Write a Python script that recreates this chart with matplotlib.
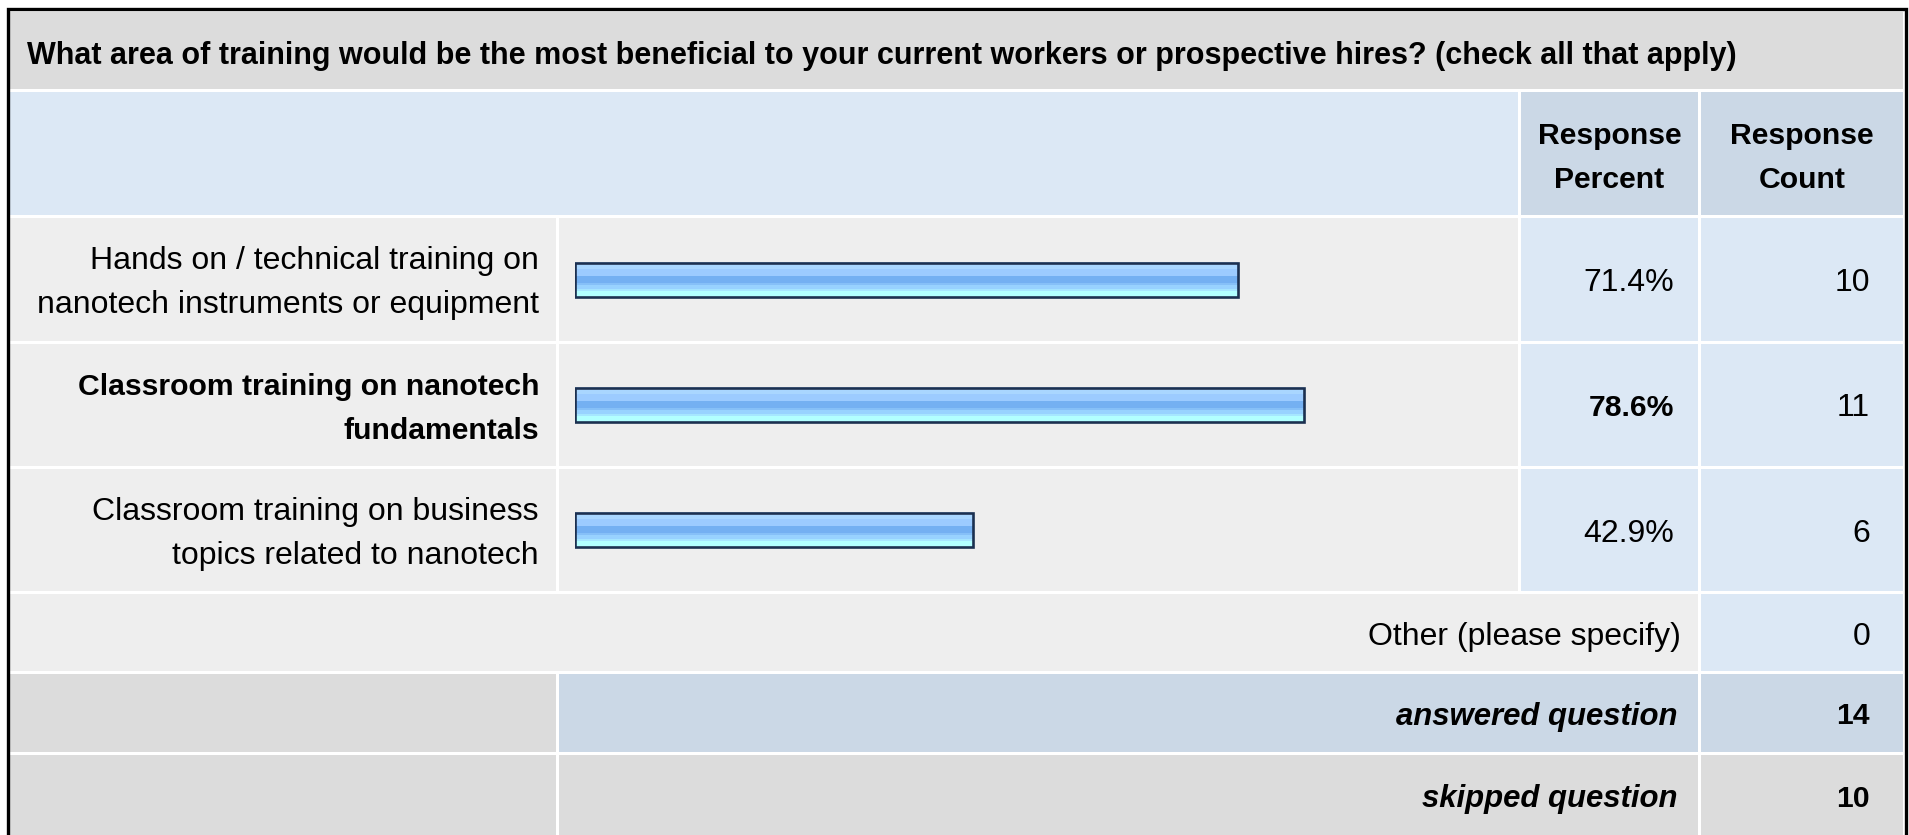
import matplotlib
matplotlib.use("Agg")
import matplotlib.pyplot as plt
from matplotlib.patches import Rectangle
from matplotlib import font_manager
from matplotlib.font_manager import FontProperties

# ---------------- data ----------------
title = ("What area of training would be the most beneficial to your current "
         "workers or prospective hires? (check all that apply)")
header_percent = ["Response", "Percent"]
header_count = ["Response", "Count"]
categories = [
    ["Hands on / technical training on", "nanotech instruments or equipment"],
    ["Classroom training on nanotech", "fundamentals"],
    ["Classroom training on business", "topics related to nanotech"],
]
percents = [71.4, 78.6, 42.9]
counts = [10, 11, 6]
other_label = "Other (please specify)"
other_count = 0
answered_label = "answered question"
answered_count = 14
skipped_label = "skipped question"
skipped_count = 10

# ---------------- figure ----------------
W, H = 1909, 835
fig = plt.figure(figsize=(W / 100, H / 100), dpi=100)
fig.patch.set_facecolor("white")
ax = fig.add_axes([0, 0, 1, 1])
ax.set_xlim(0, W)
ax.set_ylim(H, 0)
ax.axis("off")

FONT = "Liberation Sans"
try:
    font_manager.findfont(FontProperties(family="Liberation Sans Narrow",
                                         weight="bold"),
                          fallback_to_default=False)
    TITLE_FONT = "Liberation Sans Narrow"
except Exception:
    TITLE_FONT = FONT

renderer = fig.canvas.get_renderer()


def fit_size(text, target, weight="normal", style="normal", base=20.0,
             family=FONT):
    t = fig.text(0, 0, text, fontsize=base, fontweight=weight,
                 fontstyle=style, family=family)
    w = t.get_window_extent(renderer).width
    t.remove()
    return base * target / w


fs_title = fit_size(title, 1708, "bold", family=TITLE_FONT)
fs_reg = fit_size(categories[0][1], 500)
fs_bold = fit_size(categories[1][0], 461, "bold")
fs_bi = fit_size(answered_label, 282, "bold", "italic")

# colours
GRAY = "#dcdcdc"
LIGHT = "#eeeeee"
BLUE = "#dce8f5"
BLUE2 = "#cbd8e6"

# layout (pixels)
L = 10
C1 = (L, 556)
C2 = (559, 1518)
C3 = (1521, 1698)
C4 = (1701, 1903)
R_title = (12, 89)
R_head = (92, 215)
R_rows = [(218, 341), (344, 466), (469, 591)]
R_other = (594, 671)
R_ans = (674, 752)
R_skip = (755, 836)


def mid(r):
    return (r[0] + r[1]) / 2


def cell(x, y, c):
    ax.add_patch(Rectangle((x[0], y[0]), x[1] - x[0], y[1] - y[0],
                           facecolor=c, edgecolor="none", zorder=1))


cell((L, C4[1]), R_title, GRAY)
cell((L, C2[1]), R_head, BLUE)
cell(C3, R_head, BLUE2)
cell(C4, R_head, BLUE2)
for r in R_rows:
    cell(C1, r, LIGHT)
    cell(C2, r, LIGHT)
    cell(C3, r, BLUE)
    cell(C4, r, BLUE)
cell((L, C3[1]), R_other, LIGHT)
cell(C4, R_other, BLUE)
cell(C1, R_ans, GRAY)
cell((C2[0], C3[1]), R_ans, BLUE2)
cell(C4, R_ans, BLUE2)
cell(C1, R_skip, GRAY)
cell((C2[0], C3[1]), R_skip, GRAY)
cell(C4, R_skip, GRAY)

# outer border
ax.plot([7.5, 7.5, 1905.5, 1905.5], [H + 5, 8.5, 8.5, H + 5], color="black",
        lw=2.4, solid_joinstyle="miter", zorder=5)


def txt(x, y, s, ha="right", fs=None, weight="normal", style="normal",
        family=FONT):
    ax.text(x, y, s, ha=ha, va="baseline", fontsize=fs or fs_reg,
            fontweight=weight, fontstyle=style, family=family, color="black",
            zorder=6)


ONE = 11.5          # baseline offset for single-line cells
TWO = (-10, 34)     # baseline offsets for two-line cells

# title
txt(27, 64, title, ha="left", fs=fs_title, weight="bold", family=TITLE_FONT)

# headers
for i, s in enumerate(header_percent):
    txt(mid(C3), mid(R_head) + TWO[i], s, ha="center", fs=fs_bold,
        weight="bold")
for i, s in enumerate(header_count):
    txt(mid(C4), mid(R_head) + TWO[i], s, ha="center", fs=fs_bold,
        weight="bold")

best = percents.index(max(percents))
for k, (lines, p, c, r) in enumerate(zip(categories, percents, counts, R_rows)):
    rc = mid(r)
    w = "bold" if k == best else "normal"
    f = fs_bold if k == best else fs_reg
    for i, s in enumerate(lines):
        txt(539, rc + TWO[i], s, fs=f, weight=w)
    txt(1674, rc + ONE, f"{p:.1f}%", fs=f, weight=w)
    txt(1870, rc + ONE, str(c))

txt(1681, mid(R_other) + 12.5, other_label)
txt(1870, mid(R_other) + 12.5, str(other_count))
txt(1677, mid(R_ans) + ONE, answered_label, fs=fs_bi,
    weight="bold", style="italic")
txt(1870, mid(R_ans) + ONE, str(answered_count), fs=fs_bold, weight="bold")
txt(1677, mid(R_skip) + ONE, skipped_label, fs=fs_bi,
    weight="bold", style="italic")
txt(1870, mid(R_skip) + ONE, str(skipped_count), fs=fs_bold, weight="bold")

# ---------------- bars ----------------
bx0, bw = 575, 928
top, bot = R_rows[0][0] - 1, R_rows[-1][1] + 1
bax = fig.add_axes([bx0 / W, 1 - bot / H, bw / W, (bot - top) / H])
bax.set_xlim(0, 100)
bax.set_ylim(len(percents) - 0.5, -0.5)
bax.axis("off")
bax.patch.set_alpha(0)

bh = 34 / ((bot - top) / len(percents))
stripes = [(7, "#c4e2ff"), (10, "#a9d6ff"), (22, "#9ccbff"), (18, "#74b0f2"),
           (7, "#86c0f8"), (9, "#98d2ff"), (8, "#a6e6ff"), (14, "#b2ffff")]
total = sum(s[0] for s in stripes)
ys = list(range(len(percents)))
acc = 0
for n, col in stripes:
    hgt = bh * n / total
    yc = [y - bh / 2 + bh * (acc + n / 2) / total for y in ys]
    bax.barh(yc, percents, height=hgt * 1.02, left=0, color=col,
             edgecolor="none", zorder=2)
    acc += n
bax.barh(ys, percents, height=bh, left=0, facecolor="none",
         edgecolor="#1b3050", linewidth=1.9, zorder=3)

fig.savefig("out.png", dpi=100, facecolor="white")
